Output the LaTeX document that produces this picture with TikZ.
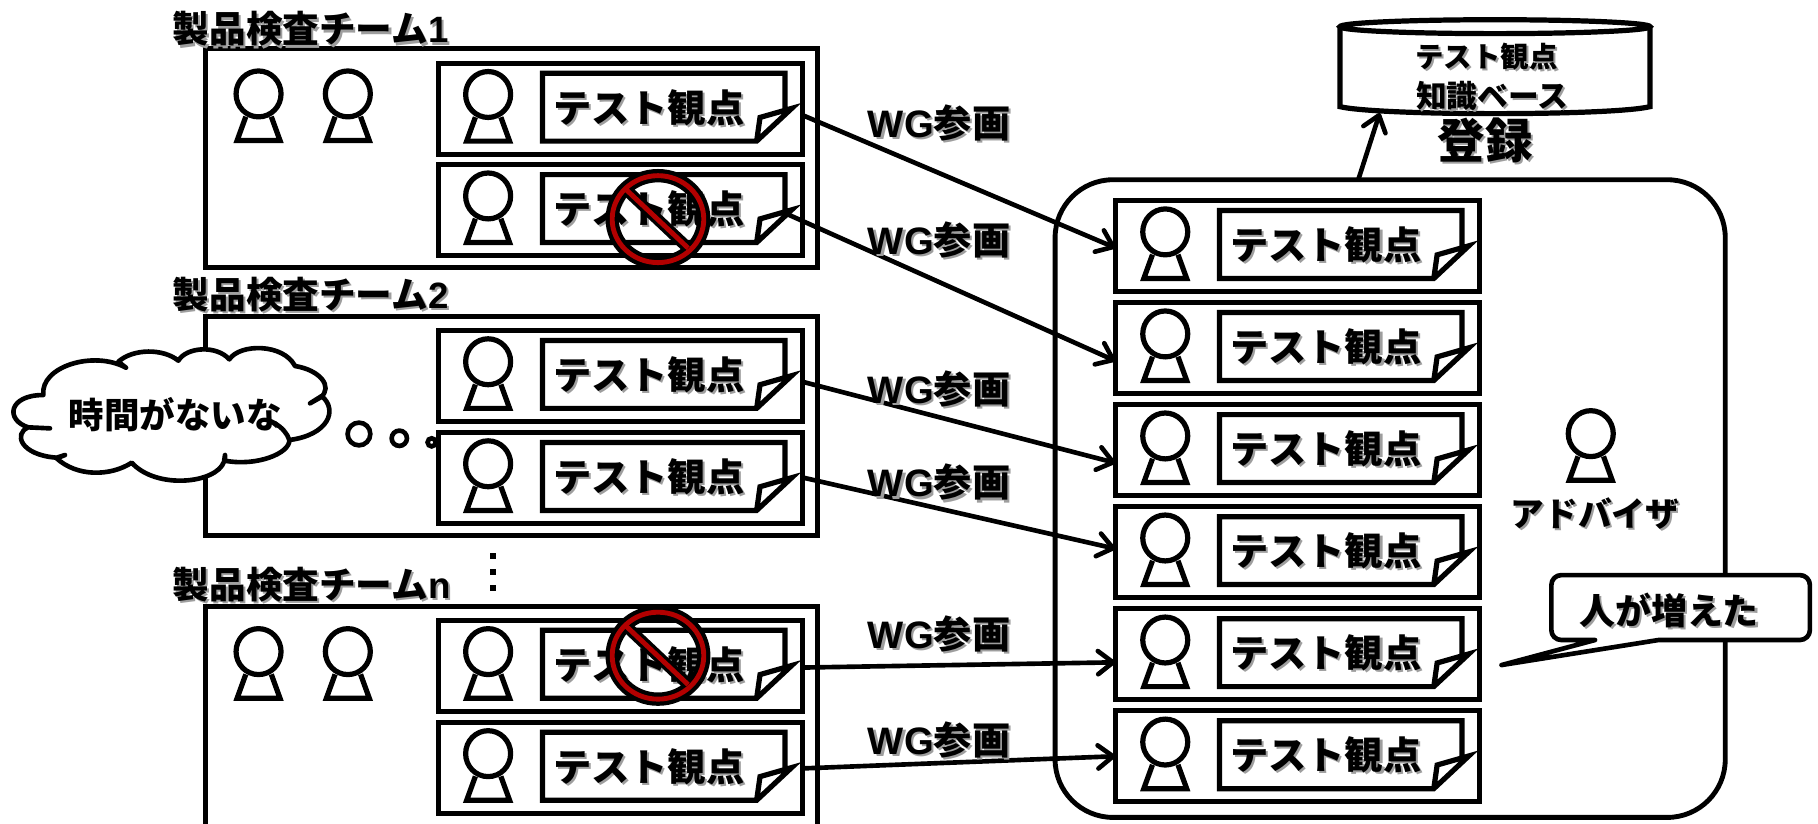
\documentclass[tikz,border=0pt]{standalone}
\usepackage{fontspec}
\setmainfont{Noto Sans CJK JP}
\newfontfamily\lat{Liberation Sans}
\usetikzlibrary{arrows.meta}
\newcommand{\shtext}[1]{\leavevmode\rlap{\raisebox{-1.8pt}{\hspace{1.8pt}\textcolor{black!38}{#1}}}#1}
\newcommand{\fs}[1]{\fontsize{#1}{#1}\selectfont}
\tikzset{
  x=1pt,y=-1pt,
  pen/.style={line width=4.5pt,draw=black,fill=white,miter limit=10},
  boxnode/.style={pen,rectangle,inner sep=0pt,outer sep=0pt,anchor=north west},
  rowbox/.style={boxnode,minimum width=314pt,minimum height=78.5pt},
  txt/.style={inner sep=0pt,outer sep=0pt,font=\bfseries},
  obs/.style={txt,font=\bfseries\fs{33}},
  teamlabel/.style={txt,anchor=west,font=\bfseries\fs{31.6}},
  wg/.style={txt,font=\bfseries\fs{33}},
  flow/.style={line width=4pt,draw=black,line cap=round,-{Straight Barb[length=13pt,width=20pt,line width=4pt,round]}},
}
\newcommand{\persona}[2]{%
  \begin{scope}[shift={(#1,#2)}]
    \draw[pen] (-11,19.6) -- (-18.5,40.2) -- (18.5,40.2) -- (11,19.6);
    \draw[pen] (0,0) ellipse [x radius=19.4pt,y radius=19.8pt];
  \end{scope}}
\newcommand{\rowitem}[3]{%
  \node[rowbox] (#1) at (#2,#3) {};
  \persona{#2+43}{#3+27}
  \begin{scope}[shift={(#2,#3)}]
    \draw[pen] (299,40) -- (299,8.6) -- (89.8,8.6) -- (89.8,67.2) -- (274.6,67.2) -- (304.8,39) -- (277.5,46.8) -- (274.6,67.2);
    \node[obs] (#1t) at (181.5,39) {\shtext{テスト観点}};
  \end{scope}}
\newcommand{\ban}[2]{%
  \begin{scope}[shift={(#1,#2)}]
    \draw[line width=11.5pt,black] (0,0) ellipse [x radius=39.5pt,y radius=37.5pt];
    \draw[line width=10pt,black] (-27,-25) -- (26,25);
    \draw[line width=4.2pt,red!70!black] (0,0) ellipse [x radius=39.5pt,y radius=37.5pt];
    \draw[line width=4.2pt,red!70!black] (-27,-25) -- (26,25);
  \end{scope}}
\begin{document}
\begin{tikzpicture}
\useasboundingbox (0,0) rectangle (1568,710);
% team boxes
\node[boxnode,minimum width=528pt,minimum height=189pt] (team1) at (177,42) {};
\node[boxnode,minimum width=528pt,minimum height=189pt] (team2) at (177,273) {};
\draw[pen,fill=none] (177,716) -- (177,523) -- (705,523) -- (705,716);
\node[teamlabel] (l1) at (149,26) {\shtext{製品検査チーム{\lat 1}}};
\node[teamlabel] (l2) at (149,255) {\shtext{製品検査チーム{\lat 2}}};
\node[teamlabel] (ln) at (149,505) {\shtext{製品検査チーム{\lat n}}};
\persona{223}{81}
\persona{300}{81}
\persona{223}{562}
\persona{300}{562}
% left rows
\rowitem{L1}{378}{54.5}
\rowitem{L2}{378}{142}
\rowitem{L3}{378}{285}
\rowitem{L4}{378}{373}
\rowitem{L5}{378}{535}
\rowitem{L6}{378}{623}
% vertical dots
\fill (422.9,477) rectangle +(5.2,5.2);
\fill (422.9,490.7) rectangle +(5.2,5.2);
\fill (422.9,504.4) rectangle +(5.2,5.2);
% cloud
\begin{scope}[shift={(0,276)},x=0.2875pt,y=-0.2875pt]
\draw[line width=4pt,fill=white,line join=round]
  (130,225) .. controls (120,140) and (280,90) .. (378,143) -- (355,125)
  .. controls (400,85) and (490,85) .. (535,122)
  .. controls (560,80) and (650,75) .. (688,118)
  .. controls (720,70) and (850,70) .. (885,138)
  .. controls (960,150) and (1000,200) .. (962,232) -- (930,250) -- (965,228)
  .. controls (1015,270) and (985,345) .. (868,360)
  .. controls (862,340) and (845,322) .. (825,310)
  .. controls (845,322) and (862,340) .. (868,360)
  .. controls (870,400) and (770,440) .. (675,422) -- (675,405) -- (672,425)
  .. controls (650,490) and (470,510) .. (395,428)
  .. controls (330,470) and (230,470) .. (170,415) -- (195,405) -- (170,413)
  .. controls (60,405) and (40,340) .. (85,322) -- (150,325) -- (85,322)
  .. controls (15,300) and (25,225) .. (130,225) -- cycle;
\end{scope}
\node[inner sep=0pt,font=\bfseries\fs{30.6}] (worry) at (151,358) {時間がないな};
\draw[line width=4pt] (309.6,374.3) circle [radius=9.8pt];
\draw[line width=4pt] (344.4,378) circle [radius=6.6pt];
\draw[line width=4pt] (372.3,381.5) circle [radius=3.5pt];
% knowledge base
\draw[pen] (1155.7,23) -- (1155.7,92) .. controls (1190,100) and (1390,100) .. (1423,92) -- (1423,23);
\draw[pen] (1289.4,23) ellipse [x radius=133.7pt,y radius=6pt];
\node[txt,font=\bfseries\fs{24.5}] (kb1) at (1282,49.5) {\shtext{テスト観点}};
\node[txt,font=\bfseries\fs{26.5}] (kb2) at (1287,83.4) {\shtext{知識ベース}};
\node[txt,font=\bfseries\fs{41}] (reg) at (1281,122) {\shtext{登録}};
\coordinate (kbin) at (1190,97.5);
% main rounded frame
\node[boxnode,line width=4.2pt,rounded corners=50pt,minimum width=578pt,minimum height=550pt] (main) at (910,155) {};
\rowitem{R1}{962}{173}
\rowitem{R2}{962}{261}
\rowitem{R3}{962}{349}
\rowitem{R4}{962}{437}
\rowitem{R5}{962}{525}
\rowitem{R6}{962}{613}
\persona{1372}{374}
\node[txt,font=\bfseries\fs{29}] (adv) at (1375.5,444) {\shtext{アドバイザ}};
% speech bubble
\draw[line width=4pt,fill=white,line join=round,rounded corners=8.6pt]
  (1430.4,552) -- (1561,552) -- (1561,496) -- (1338,496) -- (1338,552) [sharp corners] -- (1375.7,552) -- (1295,573.6) -- cycle;
\node[txt,font=\bfseries\fs{31}] (more) at (1439.5,527.6) {\shtext{人が増えた}};
% connectors
\draw[flow] ([yshift=-5.5pt]L1.east) -- ([yshift=-1.5pt]R1.west);
\draw[flow] ([xshift=-14pt,yshift=-3pt]L2.east) -- ([yshift=-11pt]R2.west);
\draw[flow] ([xshift=2pt,yshift=-5.5pt]L3.east) -- ([yshift=-11pt]R3.west);
\draw[flow] ([xshift=2pt,yshift=0pt]L4.east) -- ([yshift=3pt]R4.west);
\draw[flow] ([yshift=-1.5pt]L5.east) -- ([yshift=-7pt]R5.west);
\draw[flow] ([yshift=-0.5pt]L6.east) -- (R6.west);
\draw[flow] ([xshift=-27.5pt]main.north) -- (kbin);
\node[wg] (w1) at (810,107) {\shtext{{\lat WG}参画}};
\node[wg] (w2) at (810,208) {\shtext{{\lat WG}参画}};
\node[wg] (w3) at (810,336) {\shtext{{\lat WG}参画}};
\node[wg] (w4) at (810,417) {\shtext{{\lat WG}参画}};
\node[wg] (w5) at (810,548) {\shtext{{\lat WG}参画}};
\node[wg] (w6) at (810,639) {\shtext{{\lat WG}参画}};
% prohibition marks
\ban{567.5}{189}
\ban{567.5}{565.5}
\end{tikzpicture}
\end{document}
